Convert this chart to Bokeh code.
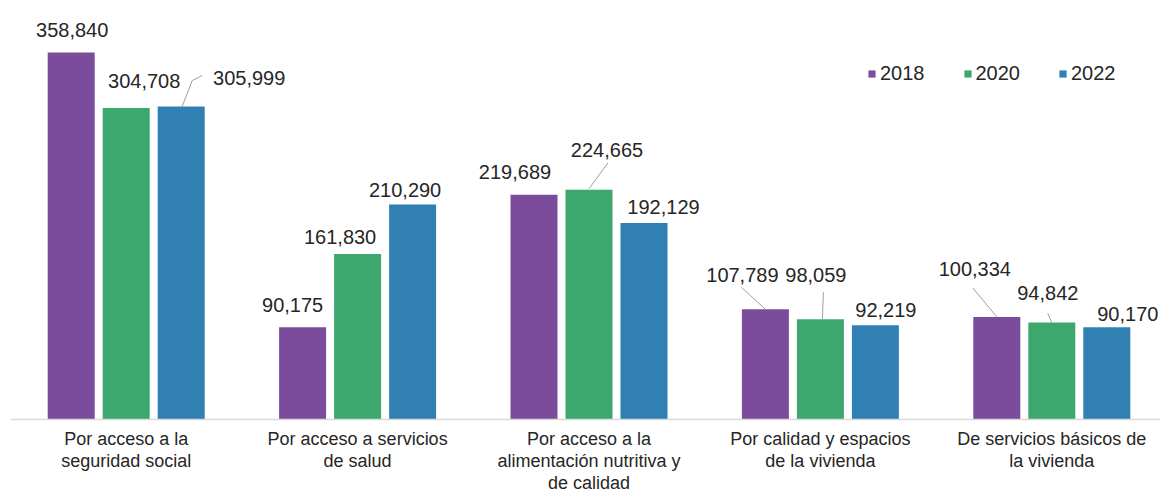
from bokeh.plotting import figure
from bokeh.models import ColumnDataSource, Range1d, Legend, LegendItem, Span
from bokeh.embed import file_html
from bokeh.resources import INLINE
from bokeh.core.properties import value

# ---- data ----
categories = [
    "Por acceso a la\nseguridad social",
    "Por acceso a servicios\nde salud",
    "Por acceso a la\nalimentación nutritiva y\nde calidad",
    "Por calidad y espacios\nde la vivienda",
    "De servicios básicos de\nla vivienda",
]
years = ["2018", "2020", "2022"]
v2018 = [358840, 90175, 219689, 107789, 100334]
v2020 = [304708, 161830, 224665, 98059, 94842]
v2022 = [305999, 210290, 192129, 92219, 90170]

# ---- styling / label placement (pixels) ----
colors = ["#7c4c9c", "#3ca86e", "#3180b4"]
label_off = [
    [(1, 23), (-10, 22), (-19, 22.5), (-23, 34), (-22, 48)],
    [(18, 27), (-17.5, 17), (18, 40), (-4.5, 44), (-4, 29.5)],
    [(68, 29), (-7.5, 14), (19.5, 16.5), (10.5, 15), (21, 13)],
]
leaders = {
    (2, 0): [(1, 0), (11, 26), (21, 31)],
    (1, 2): [(0, 1), (19, 27)],
    (0, 3): [(0, 0), (-24, 22)],
    (1, 3): [(2, 0), (3, 27)],
    (0, 4): [(0, 0), (-24, 29)],
    (1, 4): [(0, 0), (-4, 9)],
}

W, H = 1160, 495
MB_L = 10
BASE_PX = 419          # screen y of the zero line
px_x = 231.4
px_y = 1.0227 / 1000
frame_w = W - MB_L
X_END = -0.5 + frame_w / px_x
Y_END = BASE_PX / px_y
Y_START = -(H - BASE_PX) / px_y

bar_step = 55 / px_x
bar_w = 47 / px_x

p = figure(width=W, height=H, output_backend="svg", toolbar_location=None,
           x_range=Range1d(-0.5, X_END), y_range=Range1d(Y_START, Y_END),
           x_axis_location=None, y_axis_location=None,
           min_border_left=MB_L, min_border_right=0,
           min_border_top=0, min_border_bottom=0)
p.outline_line_color = None
p.xgrid.visible = False
p.ygrid.visible = False
p.background_fill_color = "white"

# zero line
p.add_layout(Span(location=0, dimension="width", line_color="#d9d9d9", line_width=1.5))

series = [v2018, v2020, v2022]
renderers = []
lx, ly = [], []
for s, vals in enumerate(series):
    xs = [i + (s - 1) * bar_step for i in range(len(categories))]
    src = ColumnDataSource(dict(
        x=xs, top=vals,
        label=[f"{v:,}" for v in vals],
        dx=[o[0] for o in label_off[s]],
        dy=[-o[1] for o in label_off[s]],
    ))
    r = p.vbar(x="x", top="top", bottom=0, width=bar_w, source=src,
               fill_color=colors[s], line_color=None)
    renderers.append(r)
    p.text(x="x", y="top", text="label", x_offset="dx", y_offset="dy", source=src,
           text_align="center", text_baseline="middle",
           text_font=value("Liberation Sans"), text_font_size="20px",
           text_color="#262626")
    for i in range(len(categories)):
        if (s, i) in leaders:
            pts = leaders[(s, i)]
            lx.append([xs[i] + dx / px_x for dx, dy in pts])
            ly.append([vals[i] + dy / px_y for dx, dy in pts])

p.multi_line(xs=lx, ys=ly, line_color="#a0a0a0", line_width=1)

# category labels below the zero line
cat_src = ColumnDataSource(dict(x=list(range(len(categories))),
                                y=[0] * len(categories), text=categories))
p.text(x="x", y="y", text="text", source=cat_src, y_offset=9,
       text_align="center", text_baseline="top",
       text_font=value("Liberation Sans"), text_font_size="18px",
       text_color="#262626", text_line_height=1.12)

legend = Legend(items=[LegendItem(label=y, renderers=[r]) for y, r in zip(years, renderers)],
                orientation="horizontal", location=(857, 410), padding=0, margin=0,
                spacing=38, label_standoff=4, glyph_width=9, glyph_height=9,
                label_height=20, label_text_font="Liberation Sans",
                label_text_font_size="20px", label_text_color="#262626",
                border_line_alpha=0, background_fill_alpha=0)
p.add_layout(legend)

open("out.html", "w").write(file_html(p, INLINE))
